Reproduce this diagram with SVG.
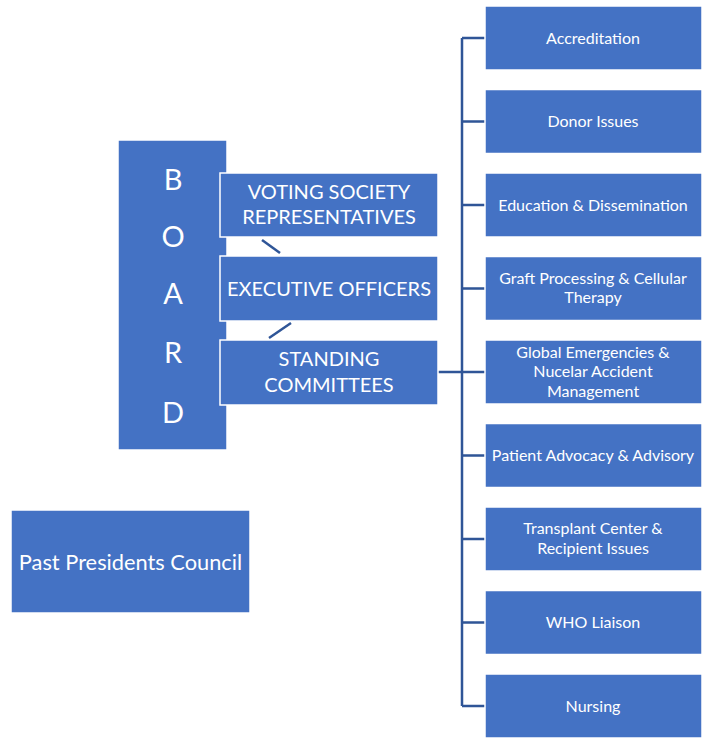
<svg xmlns="http://www.w3.org/2000/svg" width="705" height="739" viewBox="0 0 705 739">
<style>
.box{fill:#4472C4;stroke:#ffffff;stroke-width:1.5}
.t{fill:#ffffff;font-family:Lato,"Noto Sans",sans-serif;text-anchor:middle}
.s{font-size:16px}
.m{font-size:20px}
.b{font-size:29px}
.ln{stroke:#2F5597;stroke-width:2.5;fill:none}
</style>
<rect width="705" height="739" fill="#ffffff"/>
<g id="connectors">
<line class="ln" x1="262" y1="240" x2="280" y2="253"/>
<line class="ln" x1="291" y1="323" x2="269" y2="338"/>
<path class="ln" d="M438 372 H462 M462 38 V706 M462 38 H485 M462 121.5 H485 M462 205 H485 M462 288.5 H485 M462 372 H485 M462 455.5 H485 M462 539 H485 M462 622.5 H485 M462 706 H485"/>
</g>
<g id="board">
<rect class="box" x="118" y="140" width="109" height="310"/>
<text class="t b" x="173" y="190">B</text>
<text class="t b" x="173" y="247">O</text>
<text class="t b" x="173" y="304">A</text>
<text class="t b" x="173" y="363">R</text>
<text class="t b" x="173" y="423">D</text>
</g>
<g id="voting">
<rect class="box" x="220" y="173" width="218" height="64"/>
<text class="t m" x="329" y="199">VOTING SOCIETY</text>
<text class="t m" x="329" y="224">REPRESENTATIVES</text>
</g>
<g id="executive">
<rect class="box" x="220" y="256" width="218" height="65"/>
<text class="t m" x="329" y="295.5">EXECUTIVE OFFICERS</text>
</g>
<g id="standing">
<rect class="box" x="220" y="340" width="218" height="65"/>
<text class="t m" x="329" y="366">STANDING</text>
<text class="t m" x="329" y="392">COMMITTEES</text>
</g>
<g id="past-presidents">
<rect class="box" x="11" y="510" width="239" height="103"/>
<text class="t" style="font-size:21.8px" x="130.5" y="569.5">Past Presidents Council</text>
</g>
<g id="accreditation">
<rect class="box" x="485" y="6" width="217" height="64"/>
<text class="t s" x="593" y="43.5">Accreditation</text>
</g>
<g id="donor">
<rect class="box" x="485" y="89.5" width="217" height="64"/>
<text class="t s" x="593" y="127">Donor Issues</text>
</g>
<g id="education">
<rect class="box" x="485" y="173" width="217" height="64"/>
<text class="t s" x="593" y="210.5">Education &amp; Dissemination</text>
</g>
<g id="graft">
<rect class="box" x="485" y="256.5" width="217" height="64"/>
<text class="t s" x="593" y="283.5">Graft Processing &amp; Cellular</text>
<text class="t s" x="593" y="303">Therapy</text>
</g>
<g id="global">
<rect class="box" x="485" y="340" width="217" height="64"/>
<text class="t s" x="593" y="357.5">Global Emergencies &amp;</text>
<text class="t s" x="593" y="377">Nucelar Accident</text>
<text class="t s" x="593" y="396.5">Management</text>
</g>
<g id="patient">
<rect class="box" x="485" y="423.5" width="217" height="64"/>
<text class="t s" x="593" y="461">Patient Advocacy &amp; Advisory</text>
</g>
<g id="transplant">
<rect class="box" x="485" y="507" width="217" height="64"/>
<text class="t s" x="593" y="534">Transplant Center &amp;</text>
<text class="t s" x="593" y="553.5">Recipient Issues</text>
</g>
<g id="who">
<rect class="box" x="485" y="590.5" width="217" height="64"/>
<text class="t s" x="593" y="628">WHO Liaison</text>
</g>
<g id="nursing">
<rect class="box" x="485" y="674" width="217" height="64"/>
<text class="t s" x="593" y="711.5">Nursing</text>
</g>
</svg>
